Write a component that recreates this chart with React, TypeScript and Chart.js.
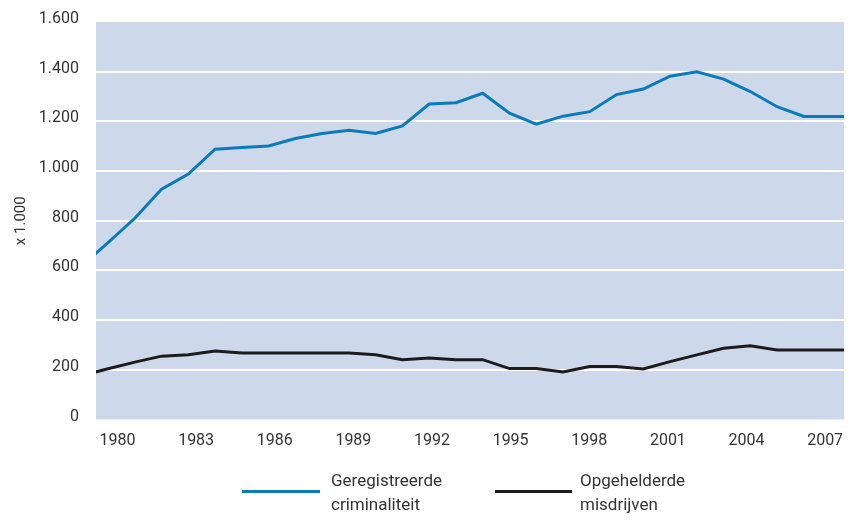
import React, { useEffect, useRef } from "react";
import { Chart, registerables } from "chart.js";

Chart.register(...registerables);

// Years (1979 and 2008 only carry the line to the plot edges)
const years = [
  1979, 1980, 1981, 1982, 1983, 1984, 1985, 1986, 1987, 1988, 1989, 1990, 1991, 1992, 1993,
  1994, 1995, 1996, 1997, 1998, 1999, 2000, 2001, 2002, 2003, 2004, 2005, 2006, 2007, 2008,
];
// Geregistreerde criminaliteit (x 1.000)
const registered = [
  617, 712, 810, 927, 988, 1088, 1095, 1101, 1131, 1151, 1164, 1151, 1182, 1270, 1275,
  1313, 1233, 1189, 1221, 1239, 1308, 1330, 1382, 1400, 1370, 1320, 1259, 1220, 1220, 1220,
];
// Opgehelderde misdrijven (x 1.000)
const solved = [
  177, 204, 231, 255, 261, 276, 268, 268, 268, 268, 268, 261, 241, 248, 241,
  241, 205, 205, 191, 213, 213, 203, 233, 260, 287, 297, 280, 280, 280, 280,
];
const xTickYears = [1980, 1983, 1986, 1989, 1992, 1995, 1998, 2001, 2004, 2007];
const yTickValues = [0, 200, 400, 600, 800, 1000, 1200, 1400, 1600];
const seriesLabels = ["Geregistreerde criminaliteit", "Opgehelderde misdrijven"];

const BLUE = "#0a7ab8";
const BLACK = "#1c1c1c";
const BG = "#cdd9ea";
const TEXT = "#333333";
const FONT = "Roboto, 'Liberation Sans', Arial, sans-serif";

function fmt(v: number): string {
  if (v >= 1000) {
    return Math.floor(v / 1000) + "." + String(v % 1000).padStart(3, "0");
  }
  return String(v);
}

const bgPlugin = {
  id: "plotBg",
  beforeDraw(chart: any) {
    const { ctx, chartArea } = chart;
    if (!chartArea) return;
    ctx.save();
    ctx.fillStyle = BG;
    ctx.fillRect(chartArea.left, chartArea.top, chartArea.right - chartArea.left, chartArea.bottom - chartArea.top);
    ctx.restore();
  },
};

export default function App() {
  const ref = useRef<HTMLCanvasElement | null>(null);

  useEffect(() => {
    if (!ref.current) return;
    const chart = new Chart(ref.current, {
      type: "line",
      data: {
        datasets: [
          {
            label: seriesLabels[0],
            data: years.map((y, i) => ({ x: y, y: registered[i] })),
            xAxisID: "x",
            borderColor: BLUE,
            backgroundColor: BLUE,
            borderWidth: 3,
            pointRadius: 0,
            tension: 0,
            clip: 0,
          },
          {
            label: seriesLabels[1],
            data: years.map((y, i) => ({ x: y, y: solved[i] })),
            xAxisID: "x",
            borderColor: BLACK,
            backgroundColor: BLACK,
            borderWidth: 3,
            pointRadius: 0,
            tension: 0,
            clip: 0,
          },
        ],
      },
      options: {
        responsive: false,
        animation: false,
        layout: { padding: { top: 22, right: 5, left: 0, bottom: 0 } },
        plugins: {
          legend: { display: false },
          tooltip: { enabled: false },
        },
        scales: {
          x: {
            type: "linear",
            display: false,
            min: 1979.55,
            max: 2007.5,
          },
          xt: {
            type: "linear",
            position: "bottom",
            min: 1979.18,
            max: 2007.72,
            afterFit: (s: any) => {
              s.height = 104.5;
              s.paddingLeft = 0;
              s.paddingRight = 0;
            },
            afterBuildTicks: (s: any) => {
              s.ticks = xTickYears.map((v) => ({ value: v }));
            },
            grid: { display: false, drawTicks: false },
            border: { display: false },
            ticks: {
              padding: 12,
              autoSkip: false,
              maxRotation: 0,
              color: TEXT,
              font: { family: FONT, size: 16 },
              callback: (v: any) => String(v),
            },
          },
          y: {
            min: 0,
            max: 1600,
            afterFit: (s: any) => {
              s.width = 96;
              s.paddingTop = 0;
              s.paddingBottom = 0;
            },
            afterBuildTicks: (s: any) => {
              s.ticks = yTickValues.map((v) => ({ value: v }));
            },
            grid: {
              drawTicks: false,
              lineWidth: 2,
              color: (c: any) =>
                c.tick && (c.tick.value === 0 || c.tick.value === 1600) ? "rgba(0,0,0,0)" : "#ffffff",
            },
            border: { display: false },
            title: {
              display: true,
              text: "x 1.000",
              color: TEXT,
              font: { family: FONT, size: 15 },
              padding: { top: 12, bottom: 0 },
            },
            ticks: {
              padding: 17,
              labelOffset: -3,
              color: TEXT,
              font: { family: FONT, size: 16 },
              callback: (v: any) => fmt(Number(v)),
            },
          },
        },
      },
      plugins: [bgPlugin],
    });
    return () => chart.destroy();
  }, []);

  const textStyle: React.CSSProperties = {
    position: "absolute",
    top: 468,
    fontFamily: FONT,
    fontSize: 17,
    lineHeight: "24px",
    color: TEXT,
  };

  return (
    <div style={{ position: "fixed", left: 0, top: 0, width: 849, height: 524, background: "#ffffff" }}>
      <canvas ref={ref} width={849} height={524} style={{ display: "block" }} />
      <div style={{ position: "absolute", left: 242, top: 490, width: 78, height: 3, background: BLUE }} />
      <div style={{ ...textStyle, left: 331 }}>
        Geregistreerde
        <br />
        criminaliteit
      </div>
      <div style={{ position: "absolute", left: 495, top: 490, width: 77, height: 3, background: BLACK }} />
      <div style={{ ...textStyle, left: 580 }}>
        Opgehelderde
        <br />
        misdrijven
      </div>
    </div>
  );
}
